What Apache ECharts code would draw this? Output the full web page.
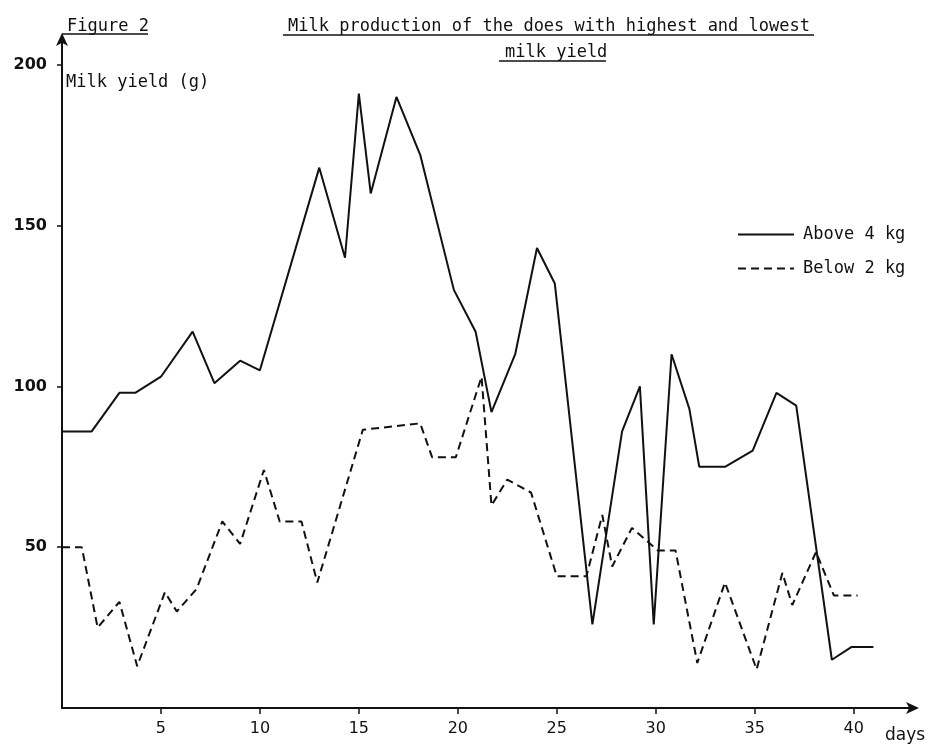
<!DOCTYPE html>
<html>
<head>
<meta charset="utf-8">
<script src="https://cdn.jsdelivr.net/npm/echarts@6/dist/echarts.min.js"></script>
<style>
html,body{margin:0;padding:0;background:#fff;}
#chart{width:932px;height:749px;}
</style>
</head>
<body>
<div id="chart"></div>
<script>
// Data (days, milk yield in g)
const aboveDays  = [0, 1.5, 2.9, 3.7, 5.0, 6.6, 7.7, 9.0, 10.0, 13.0, 14.3, 15.0, 15.6, 16.9, 18.1, 19.8, 20.9, 21.7, 22.9, 24.0, 24.9, 26.8, 28.3, 29.2, 29.9, 30.8, 31.7, 32.2, 33.5, 34.9, 36.1, 37.1, 38.9, 39.9, 41.0];
const aboveYield = [86, 86, 98, 98, 103, 117, 101, 108, 105, 168, 140, 191, 160, 190, 172, 130, 117, 92, 110, 143, 132, 26, 86, 100, 26, 110, 93, 75, 75, 80, 98, 94, 15, 19, 19];
const belowDays  = [0, 1.0, 1.8, 2.9, 3.8, 5.2, 5.8, 6.8, 8.1, 9.0, 10.2, 11.0, 12.1, 12.9, 15.2, 18.1, 18.7, 19.9, 21.2, 21.7, 22.5, 23.7, 25.0, 26.5, 27.3, 27.8, 28.8, 30.1, 31.0, 32.1, 33.5, 35.1, 36.4, 36.9, 38.1, 39.0, 40.2];
const belowYield = [50, 50, 25, 33, 13, 36, 30, 37, 58, 51, 74, 58, 58, 39, 86.5, 88.5, 78, 78, 103, 63, 71, 67, 41, 41, 60, 44, 56, 49, 49, 14, 39, 12, 42, 32, 48.5, 35, 35];
const xTicks = [5, 10, 15, 20, 25, 30, 35, 40];
const yTicks = [50, 100, 150, 200];
const seriesNames = ['Above 4 kg', 'Below 2 kg'];

const mono = 'DejaVu Sans Mono';
const chart = echarts.init(document.getElementById('chart'), null, {renderer: 'canvas'});

const pairs = (xs, ys) => xs.map((x, i) => [x, ys[i]]);

chart.setOption({
  animation: false,
  backgroundColor: '#fff',
  title: [
    {text: 'Figure 2', left: 62, top: 13, textStyle: {fontFamily: mono, fontSize: 17, fontWeight: 'normal', color: '#111'}},
    {text: 'Milk production of the does with highest and lowest', left: 283, top: 13, textStyle: {fontFamily: mono, fontSize: 17, fontWeight: 'normal', color: '#111'}},
    {text: 'milk yield', left: 500, top: 39, textStyle: {fontFamily: mono, fontSize: 17, fontWeight: 'normal', color: '#111'}}
  ],
  graphic: [
    {type: 'line', shape: {x1: 62, y1: 34, x2: 148, y2: 34}, style: {stroke: '#111', lineWidth: 1.5}},
    {type: 'line', shape: {x1: 283, y1: 35, x2: 814, y2: 35}, style: {stroke: '#111', lineWidth: 1.5}},
    {type: 'line', shape: {x1: 499, y1: 61, x2: 606, y2: 61}, style: {stroke: '#111', lineWidth: 1.5}}
  ],
  legend: {
    orient: 'vertical',
    left: 732,
    top: 221,
    itemWidth: 56,
    itemHeight: 14,
    itemGap: 17,
    data: seriesNames,
    itemStyle: {opacity: 0},
    textStyle: {fontFamily: mono, fontSize: 17, color: '#111', padding: [0, 0, 0, 4]}
  },
  grid: {left: 62, top: 39, right: 19, bottom: 41, containLabel: false},
  xAxis: {
    type: 'value',
    min: 0,
    max: 43,
    name: 'days',
    nameLocation: 'end',
    nameGap: -28,
    nameTextStyle: {fontFamily: 'DejaVu Sans', fontSize: 17, color: '#111', align: 'left', verticalAlign: 'top', padding: [19, 0, 0, 0]},
    axisLine: {show: true, symbol: ['none', 'arrow'], symbolSize: [9, 13], symbolOffset: [0, 6], lineStyle: {color: '#111', width: 2}},
    axisTick: {show: true, length: 6, customValues: xTicks, lineStyle: {color: '#111', width: 1.5}},
    axisLabel: {customValues: xTicks, margin: 13, fontFamily: 'DejaVu Sans', fontSize: 16, color: '#111'},
    splitLine: {show: false}
  },
  yAxis: {
    type: 'value',
    min: 0,
    max: 208,
    name: 'Milk yield (g)',
    nameLocation: 'end',
    nameGap: -44,
    nameTextStyle: {fontFamily: mono, fontSize: 17, color: '#111', align: 'left', verticalAlign: 'middle', padding: [0, 0, 0, 4]},
    axisLine: {show: true, symbol: ['none', 'arrow'], symbolSize: [9, 13], symbolOffset: [0, 6], lineStyle: {color: '#111', width: 2}},
    axisTick: {show: true, length: 5, customValues: yTicks, lineStyle: {color: '#111', width: 1.5}},
    axisLabel: {customValues: yTicks, margin: 15, fontFamily: 'DejaVu Sans', fontSize: 16, fontWeight: 'bold', color: '#111'},
    splitLine: {show: false}
  },
  series: [
    {
      name: seriesNames[0],
      type: 'line',
      data: pairs(aboveDays, aboveYield),
      symbol: 'none',
      lineStyle: {color: '#111', width: 2, type: 'solid'},
      itemStyle: {color: '#111'}
    },
    {
      name: seriesNames[1],
      type: 'line',
      data: pairs(belowDays, belowYield),
      symbol: 'none',
      lineStyle: {color: '#111', width: 2, type: [8, 5]},
      itemStyle: {color: '#111'}
    }
  ]
});
</script>
</body>
</html>
